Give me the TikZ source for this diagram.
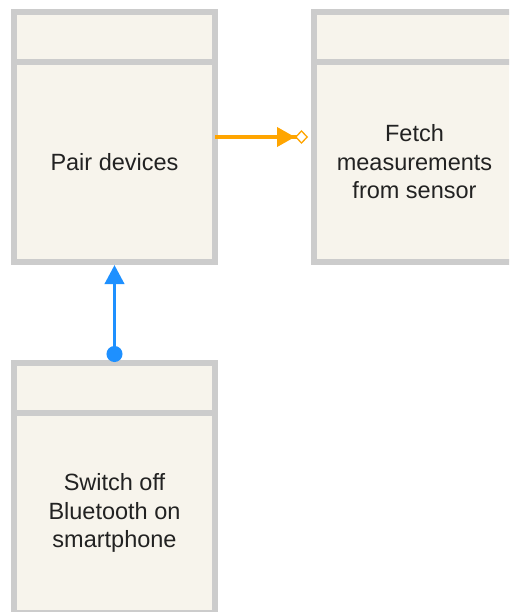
\documentclass[tikz,border=0pt]{standalone}
\usepackage{fontspec}
\setmainfont{Liberation Sans}
\usetikzlibrary{arrows.meta}
\definecolor{boxgray}{HTML}{CCCCCC}
\definecolor{boxfill}{HTML}{F7F4EC}
\definecolor{linkorange}{HTML}{FFA500}
\definecolor{linkblue}{HTML}{1E90FF}
\definecolor{labeltext}{HTML}{222222}

\begin{document}
\begin{tikzpicture}[x=1pt,y=-1pt,
  taskbox/.style={draw=boxgray, fill=boxfill, line width=6pt,
    minimum width=201pt, minimum height=250pt, inner sep=0pt, outer sep=0pt},
  divider/.style={draw=boxgray, line width=6pt},
  tasklabel/.style={font=\fontsize{23.5}{28.5}\selectfont, text=labeltext,
    align=center, inner sep=0pt},
  orangelink/.style={draw=linkorange, line width=3.8pt, shorten >=6pt,
    -{Triangle[length=18pt,width=19pt] Diamond[fill=white,length=13pt,width=14pt,line width=1.3pt]}},
  bluelink/.style={draw=linkblue, line width=3.8pt, shorten <=1pt, shorten >=3pt,
    {Circle[length=16pt]}-{Triangle[length=19pt,width=19pt]}}]
  \useasboundingbox (0,0) rectangle (509,612);
  \clip (0,0) rectangle (509,612);
  \fill[white] (0,0) rectangle (509,612);

  % task boxes with a header strip
  \node[taskbox] (pair)   at (114.5,137) {};
  \node[taskbox] (fetch)  at (414.5,137) {};
  \node[taskbox] (switch) at (114.5,488) {};
  \foreach \b in {pair,fetch,switch}
    \draw[divider] ([yshift=-50pt]\b.north west) -- ([yshift=-50pt]\b.north east);

  % labels, centred in the body of each box
  \node[tasklabel] (pairtext)   at ([yshift=-25pt]pair.center)   {Pair devices};
  \node[tasklabel] (fetchtext)  at ([yshift=-25pt]fetch.center)  {Fetch\\measurements\\from sensor};
  \node[tasklabel] (switchtext) at ([yshift=-25pt]switch.center) {Switch off\\Bluetooth on\\smartphone};

  % connectors
  \draw[orangelink] (pair) -- (fetch);
  \draw[bluelink] (switch) -- (pair);
\end{tikzpicture}
\end{document}
